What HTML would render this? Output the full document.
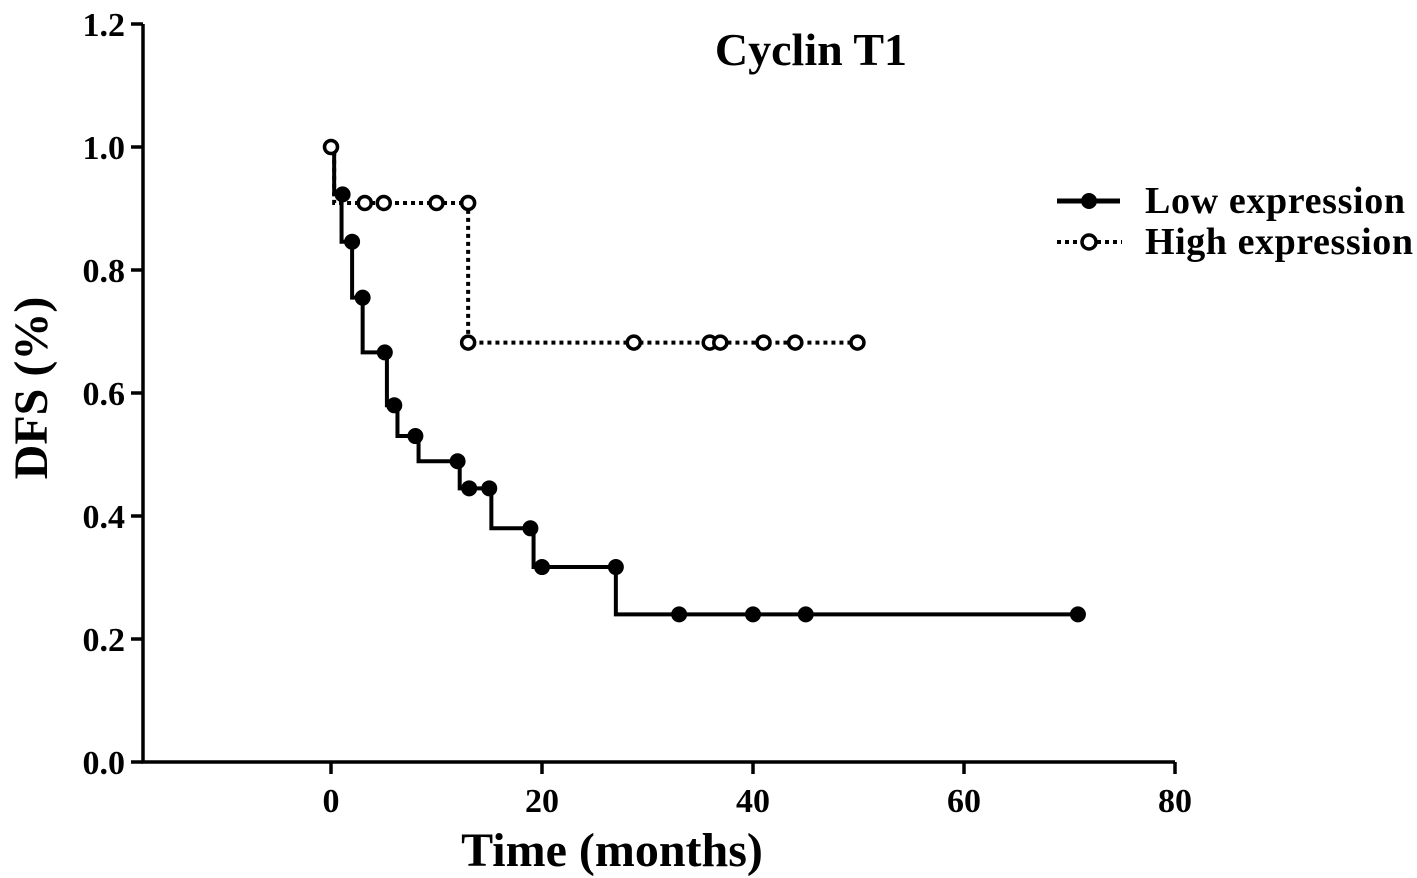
<!DOCTYPE html>
<html><head><meta charset="utf-8"><style>
html,body{margin:0;padding:0;background:#fff;}
svg{display:block;font-family:"Liberation Serif",serif;font-weight:bold;}
</style></head><body>
<svg id="chart" width="1417" height="878" viewBox="0 0 1417 878">
<g id="axes"></g>
<g id="plot"></g>
<text x="811" y="65" font-size="46" text-anchor="middle">Cyclin T1</text>
<text x="612" y="866" font-size="48" text-anchor="middle">Time (months)</text>
<text transform="translate(47,388) rotate(-90)" font-size="48" text-anchor="middle">DFS (%)</text>
<g>
 <g>
  <line x1="1057" y1="201" x2="1120" y2="201" stroke="#000" stroke-width="5"/>
  <circle cx="1089" cy="201" r="8" fill="#000"/>
  <text x="1145" y="213" font-size="38" textLength="260">Low expression</text>
 </g>
 <g>
  <line x1="1057" y1="242" x2="1122" y2="242" stroke="#000" stroke-width="4" stroke-dasharray="4,4"/>
  <circle cx="1089" cy="242" r="7" fill="#fff" stroke="#000" stroke-width="3.5"/>
  <text x="1145" y="254" font-size="38" textLength="268">High expression</text>
 </g>
</g>
</svg>
<script>
const xTicks=[0,20,40,60,80];
const yTicks=[0.0,0.2,0.4,0.6,0.8,1.0,1.2];
const yTickLabels=["0.0","0.2","0.4","0.6","0.8","1.0","1.2"];
const lowDropTimes=[0.3,1,2,3,5.3,6.3,8.3,12.2,15.2,19.2,27];
const lowDropSurv=[0.923,0.846,0.755,0.666,0.58,0.53,0.489,0.445,0.38,0.317,0.24];
const lowEndTime=71;
const lowMarkT=[1.1,2,3,5.1,6,8,12,13.1,15,18.9,20,27,33,40,45,70.8];
const lowMarkS=[0.923,0.846,0.755,0.666,0.58,0.53,0.489,0.445,0.445,0.38,0.317,0.317,0.24,0.24,0.24,0.24];
const highDropTimes=[0.3,13];
const highDropSurv=[0.909,0.682];
const highEndTime=50;
const highMarkT=[0,3.2,5,10,13,13,28.7,35.9,36.9,41,44,49.9];
const highMarkS=[1.0,0.909,0.909,0.909,0.909,0.682,0.682,0.682,0.682,0.682,0.682,0.682];

const NS="http://www.w3.org/2000/svg";
const X=t=>331+t*10.55;
const Y=s=>762-s*615;
const axes=document.getElementById('axes'),plot=document.getElementById('plot');
function mk(tag,attrs,parent){const e=document.createElementNS(NS,tag);for(const k in attrs)e.setAttribute(k,attrs[k]);parent.appendChild(e);return e;}
let ax=mk('path',{d:`M143 ${Y(1.2)} V762 H${X(80)}`,stroke:'#000','stroke-width':3.5,fill:'none'},axes);


yTicks.forEach((v,i)=>{
 const t=mk('line',{x1:131,x2:143,y1:Y(v),y2:Y(v),stroke:'#000','stroke-width':3.5},axes);
 
 
 const l=mk('text',{x:125,y:Y(v)+12,'font-size':34,'text-anchor':'end'},axes);
 l.textContent=yTickLabels[i];
 
 
});
xTicks.forEach(v=>{
 const t=mk('line',{x1:X(v),x2:X(v),y1:762,y2:774,stroke:'#000','stroke-width':3.5},axes);
 
 
 const l=mk('text',{x:X(v),y:812,'font-size':34,'text-anchor':'middle'},axes);
 l.textContent=String(v);
 
 
});
function stepPath(times,surv,end){
 let d=`M${X(0)} ${Y(1)}`;
 times.forEach((t,i)=>{d+=` H${X(t)} V${Y(surv[i])}`;});
 return d+` H${X(end)}`;
}
let hp=mk('path',{d:stepPath(highDropTimes,highDropSurv,highEndTime),stroke:'#000','stroke-width':4,fill:'none','stroke-dasharray':'4,4'},plot);


let lp=mk('path',{d:stepPath(lowDropTimes,lowDropSurv,lowEndTime),stroke:'#000','stroke-width':4,fill:'none'},plot);


lowMarkT.forEach((t,i)=>{
 const c=mk('circle',{cx:X(t),cy:Y(lowMarkS[i]),r:8,fill:'#000'},plot);
 
 
});
highMarkT.forEach((t,i)=>{
 const c=mk('circle',{cx:X(t),cy:Y(highMarkS[i]),r:6.5,fill:'#fff',stroke:'#000','stroke-width':3.5},plot);
 
 
});
</script>
</body></html>
